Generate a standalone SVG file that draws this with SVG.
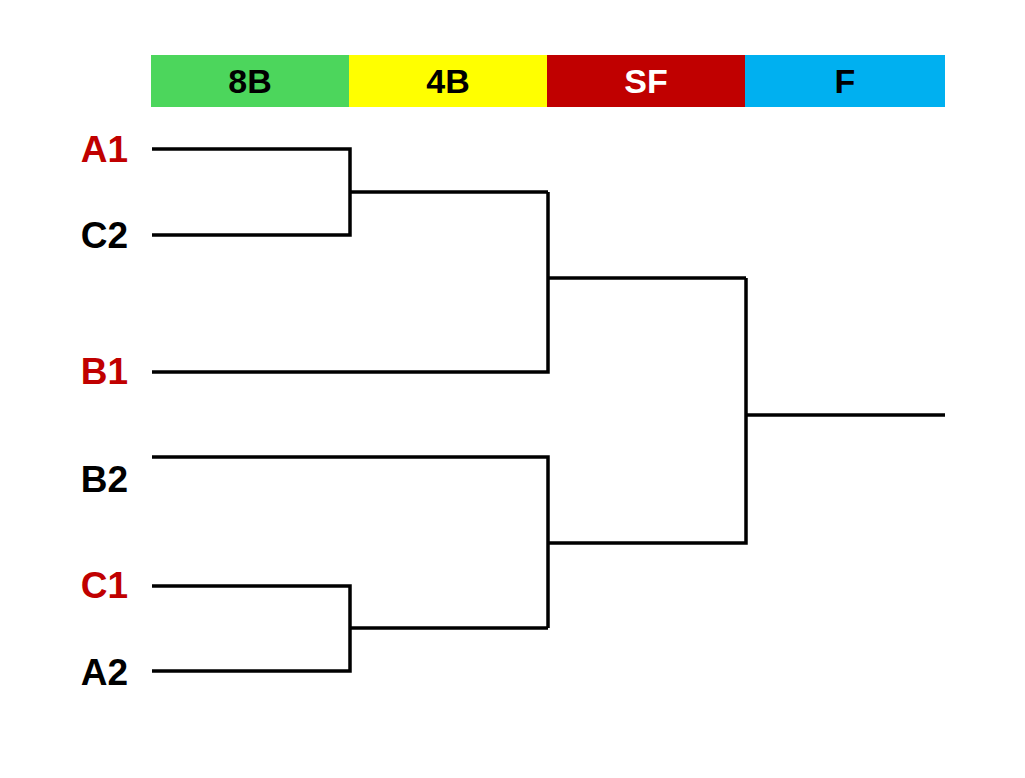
<svg xmlns="http://www.w3.org/2000/svg" width="1025" height="778" viewBox="0 0 1025 778">
<style>
.hdr{font-family:"Liberation Sans",Arial,sans-serif;font-size:34px;font-weight:bold;text-anchor:middle}
.lbl{font-family:"Liberation Sans",Arial,sans-serif;font-size:37px;font-weight:bold;text-anchor:end}
.red{fill:#C00000}
.blk{fill:#000}
.ln{fill:none;stroke:#000;stroke-width:3.5;stroke-linecap:butt;stroke-linejoin:miter}
</style>
<rect width="1025" height="778" fill="#fff"/>
<g id="header">
<rect x="151" y="55" width="198" height="52" fill="#4CD65C"/>
<rect x="349" y="55" width="198" height="52" fill="#FFFF00"/>
<rect x="547" y="55" width="198" height="52" fill="#C00000"/>
<rect x="745" y="55" width="200" height="52" fill="#00B0F0"/>
<text class="hdr" x="250" y="93" fill="#000">8B</text>
<text class="hdr" x="448" y="93" fill="#000">4B</text>
<text class="hdr" x="646" y="93" fill="#fff">SF</text>
<text class="hdr" x="845" y="93" fill="#000">F</text>
</g>
<g id="node-A1"><text class="lbl red" x="128" y="162">A1</text></g>
<g id="node-C2"><text class="lbl blk" x="128" y="248">C2</text></g>
<g id="node-B1"><text class="lbl red" x="128" y="384">B1</text></g>
<g id="node-B2"><text class="lbl blk" x="128" y="492">B2</text></g>
<g id="node-C1"><text class="lbl red" x="128" y="598">C1</text></g>
<g id="node-A2"><text class="lbl blk" x="128" y="685">A2</text></g>
<g id="connectors">
<path class="ln" d="M152,149 H350 V235 H152"/>
<path class="ln" d="M350,192 H548"/>
<path class="ln" d="M152,372 H548 V192"/>
<path class="ln" d="M548,278 H746"/>
<path class="ln" d="M152,586 H350 V671 H152"/>
<path class="ln" d="M350,628 H548"/>
<path class="ln" d="M152,457 H548 V628"/>
<path class="ln" d="M548,543 H746 V278"/>
<path class="ln" d="M746,415 H945"/>
</g>
</svg>
